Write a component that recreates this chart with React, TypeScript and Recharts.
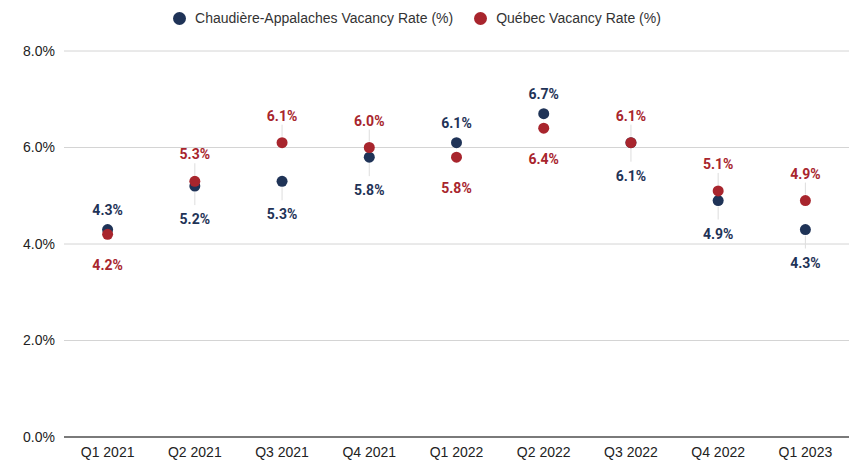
import { ComposedChart, Line, XAxis, YAxis, CartesianGrid, LabelList, ReferenceLine } from 'recharts';

const quarters = ['Q1 2021', 'Q2 2021', 'Q3 2021', 'Q4 2021', 'Q1 2022', 'Q2 2022', 'Q3 2022', 'Q4 2022', 'Q1 2023'];
const chaudiereRate = [4.3, 5.2, 5.3, 5.8, 6.1, 6.7, 6.1, 4.9, 4.3];
const quebecRate = [4.2, 5.3, 6.1, 6.0, 5.8, 6.4, 6.1, 5.1, 4.9];
// labels that were pushed out and got a thin leader line in the original
const hasLeader = [false, true, true, true, false, false, true, true, true];
const yTicks = [0, 2, 4, 6, 8];

const NAVY = '#1f3357';
const RED = '#a8252d';
const AXIS_FONT = '"Liberation Sans", Arial, sans-serif';

const data = quarters.map((q, i) => ({ quarter: q, chaudiere: chaudiereRate[i], quebec: quebecRate[i] }));

// label goes above the higher point, below the lower one (Québec wins ties)
const makeLabel = (series: 'chaudiere' | 'quebec', color: string) => (props: any) => {
  const { x, y, index, value } = props;
  const own = series === 'quebec' ? quebecRate[index] : chaudiereRate[index];
  const other = series === 'quebec' ? chaudiereRate[index] : quebecRate[index];
  const above = own > other || (own === other && series === 'quebec');
  const leader = hasLeader[index];
  const ly = above ? y - (leader ? 27 : 20) : y + (leader ? 33 : 31);
  return (
    <g>
      {leader && (
        <line x1={x} x2={x} y1={above ? y - 18 : y + 6} y2={above ? y - 6 : y + 19} stroke="#dddddd" strokeWidth={1} />
      )}
      <text x={x} y={ly} textAnchor="middle" dominantBaseline="central" fill={color}
        fontFamily="Roboto, sans-serif" fontWeight={700} fontSize={14}>
        {Number(value).toFixed(1)}%
      </text>
    </g>
  );
};

const Legend = () => (
  <div style={{ position: 'absolute', top: 9, left: -10, width: 854, display: 'flex', justifyContent: 'center', alignItems: 'center', fontFamily: AXIS_FONT, fontSize: 14, color: '#333', lineHeight: '18px' }}>
    <span style={{ display: 'inline-block', width: 13, height: 13, borderRadius: '50%', background: NAVY, marginRight: 9 }} />
    <span style={{ marginRight: 21 }}>Chaudière-Appalaches Vacancy Rate (%)</span>
    <span style={{ display: 'inline-block', width: 13, height: 13, borderRadius: '50%', background: RED, marginRight: 9 }} />
    <span>Québec Vacancy Rate (%)</span>
  </div>
);

const App = () => (
  <div style={{ position: 'absolute', left: 0, top: 0, width: 854, height: 463, background: '#fff', overflow: 'hidden' }}>
    <ComposedChart width={854} height={463} data={data} margin={{ top: 51, right: 5, bottom: 0, left: 0 }}>
      <CartesianGrid vertical={false} stroke="#d4d4d4" strokeWidth={1} />
      <XAxis dataKey="quarter" scale="band" axisLine={false} tickLine={false} tickSize={0} tickMargin={10} height={26}
        tick={{ fill: '#222', fontSize: 14, fontFamily: AXIS_FONT }} />
      <YAxis domain={[0, 8]} ticks={yTicks} width={64} axisLine={false} tickLine={false} tickSize={0} tickMargin={9}
        tickFormatter={(v: number) => `${v.toFixed(1)}%`}
        tick={{ fill: '#222', fontSize: 14, fontFamily: AXIS_FONT }} />
      <ReferenceLine y={0} stroke="#555" strokeWidth={1.5} />
      <Line dataKey="chaudiere" name="Chaudière-Appalaches Vacancy Rate (%)" stroke="none" isAnimationActive={false}
        dot={{ r: 5.5, fill: NAVY, stroke: 'none' }} activeDot={false}>
        <LabelList dataKey="chaudiere" content={makeLabel('chaudiere', NAVY)} />
      </Line>
      <Line dataKey="quebec" name="Québec Vacancy Rate (%)" stroke="none" isAnimationActive={false}
        dot={{ r: 5.5, fill: RED, stroke: 'none' }} activeDot={false}>
        <LabelList dataKey="quebec" content={makeLabel('quebec', RED)} />
      </Line>
    </ComposedChart>
    <Legend />
  </div>
);

export default App;
